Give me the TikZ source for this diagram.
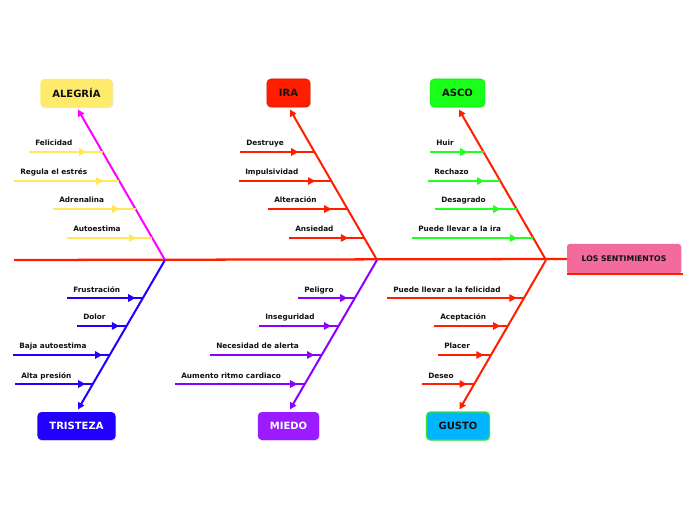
\documentclass[tikz,border=0pt]{standalone}
\usepackage{fontspec}
\setmainfont{DejaVu Sans}
\usetikzlibrary{arrows.meta,positioning,decorations.markings,shadows}

\definecolor{alegriaFill}{HTML}{FFEB6B}
\definecolor{alegriaLine}{HTML}{FFE95A}
\definecolor{boneMag}{HTML}{FF00FF}
\definecolor{iraRed}{HTML}{FF1E00}
\definecolor{ascoFill}{HTML}{1AFF1A}
\definecolor{ascoLine}{HTML}{22FF22}
\definecolor{tristeBlue}{HTML}{2200FF}
\definecolor{miedoFill}{HTML}{9B1AFF}
\definecolor{miedoLine}{HTML}{8A00FF}
\definecolor{gustoFill}{HTML}{00B4FF}
\definecolor{gustoEdge}{HTML}{33E633}
\definecolor{sentPink}{HTML}{F26B9C}
\definecolor{textDark}{HTML}{111111}

\begin{document}
\begin{tikzpicture}[
 x=0.75pt,y=-0.75pt,
 emo/.style={rounded corners=3pt,minimum height=21pt,inner xsep=9pt,outer sep=0pt,text=textDark,
   font=\fontsize{7.5}{9}\selectfont\bfseries,
   drop shadow={opacity=0.18,shadow xshift=0.6pt,shadow yshift=-0.9pt}},
 bone/.style={color=#1,line width=1.5pt,shorten >=2.2pt,-{Triangle[length=5pt,width=5pt]}},
 cause/.style={anchor=base west,inner sep=0pt,text=textDark,font=\fontsize{5.5}{6}\selectfont\bfseries},
 upsub/.style={color=#1,line width=1.4pt,postaction={decorate},
   decoration={markings,mark=at position -12pt with {\arrow{Triangle[length=5.5pt,width=5.5pt]}}}},
 lowsub/.style={color=#1,line width=1.4pt,postaction={decorate},
   decoration={markings,mark=at position -5.5pt with {\arrow{Triangle[length=5.5pt,width=5.5pt]}}}}
]
\fill[white] (0,0) rectangle (696,520);
\useasboundingbox (0,0) rectangle (696,520);

% heads and the emotion boxes
\node[emo,fill=sentPink,minimum width=85.5pt,minimum height=22.5pt,rounded corners=2pt,
  font=\fontsize{5.8}{7}\selectfont\bfseries] (sent) at (624,259) {LOS SENTIMIENTOS};
\node[emo,fill=alegriaFill] (alegria) at (76.5,93) {ALEGRÍA};
\node[emo,fill=iraRed,draw=iraRed!85!black] (ira) at (288.5,93) {IRA};
\node[emo,fill=ascoFill,draw=ascoFill!90!black] (asco) at (457.5,93) {ASCO};
\node[emo,fill=tristeBlue,text=white] (tristeza) at (76.5,426) {TRISTEZA};
\node[emo,fill=miedoFill,text=white] (miedo) at (288.5,426) {MIEDO};
\node[emo,fill=gustoFill,draw=gustoEdge,line width=1pt] (gusto) at (458,426) {GUSTO};

% spine
\coordinate (tail) at (14,260);
\coordinate (jA) at (165,260);
\coordinate (jI) at (377,260);
\coordinate (jS) at (546,260);
\draw[iraRed,line width=1.7pt] (tail) -- (sent.west);
\draw[iraRed,line width=1.2pt] (sent.south west) -- ([xshift=1.5pt]sent.south east);

% bones
\draw[bone=boneMag] (jA) -- (alegria.south);
\draw[bone=iraRed] (jI) -- (ira.south);
\draw[bone=iraRed] (jS) -- (asco.south);
\draw[bone=tristeBlue] (jA) -- (tristeza.north);
\draw[bone=miedoLine] (jI) -- (miedo.north);
\draw[bone=iraRed] (jS) -- (gusto.north);

% points on the bones
\path (jA) -- (alegria.south) coordinate[pos=0.706] (a1) coordinate[pos=0.516] (a2) coordinate[pos=0.333] (a3) coordinate[pos=0.144] (a4);
\path (jI) -- (ira.south) coordinate[pos=0.706] (i1) coordinate[pos=0.516] (i2) coordinate[pos=0.333] (i3) coordinate[pos=0.144] (i4);
\path (jS) -- (asco.south) coordinate[pos=0.706] (s1) coordinate[pos=0.516] (s2) coordinate[pos=0.333] (s3) coordinate[pos=0.144] (s4);
\path (jA) -- (tristeza.north) coordinate[pos=0.25] (t1) coordinate[pos=0.434] (t2) coordinate[pos=0.625] (t3) coordinate[pos=0.816] (t4);
\path (jI) -- (miedo.north) coordinate[pos=0.25] (m1) coordinate[pos=0.434] (m2) coordinate[pos=0.625] (m3) coordinate[pos=0.816] (m4);
\path (jS) -- (gusto.north) coordinate[pos=0.25] (g1) coordinate[pos=0.434] (g2) coordinate[pos=0.625] (g3) coordinate[pos=0.816] (g4);

% ALEGRIA
\node[cause] (felicidad) at (35,146) {Felicidad};
\node[cause] (regula) at (20,175) {Regula el estrés};
\node[cause] (adrenalina) at (59,203) {Adrenalina};
\node[cause] (autoestima) at (73,232) {Autoestima};
\draw[upsub=alegriaLine] ([xshift=-4.5pt]felicidad.west |- a1) -- (a1);
\draw[upsub=alegriaLine] ([xshift=-4.5pt]regula.west |- a2) -- (a2);
\draw[upsub=alegriaLine] ([xshift=-4.5pt]adrenalina.west |- a3) -- (a3);
\draw[upsub=alegriaLine] ([xshift=-4.5pt]autoestima.west |- a4) -- (a4);

% IRA
\node[cause] (destruye) at (246,146) {Destruye};
\node[cause] (impulsividad) at (245,175) {Impulsividad};
\node[cause] (alteracion) at (274,203) {Alteración};
\node[cause] (ansiedad) at (295,232) {Ansiedad};
\draw[upsub=iraRed] ([xshift=-4.5pt]destruye.west |- i1) -- (i1);
\draw[upsub=iraRed] ([xshift=-4.5pt]impulsividad.west |- i2) -- (i2);
\draw[upsub=iraRed] ([xshift=-4.5pt]alteracion.west |- i3) -- (i3);
\draw[upsub=iraRed] ([xshift=-4.5pt]ansiedad.west |- i4) -- (i4);

% ASCO
\node[cause] (huir) at (436,146) {Huir};
\node[cause] (rechazo) at (434,175) {Rechazo};
\node[cause] (desagrado) at (441,203) {Desagrado};
\node[cause] (llevaira) at (418,232) {Puede llevar a la ira};
\draw[upsub=ascoLine] ([xshift=-4.5pt]huir.west |- s1) -- (s1);
\draw[upsub=ascoLine] ([xshift=-4.5pt]rechazo.west |- s2) -- (s2);
\draw[upsub=ascoLine] ([xshift=-4.5pt]desagrado.west |- s3) -- (s3);
\draw[upsub=ascoLine] ([xshift=-4.5pt]llevaira.west |- s4) -- (s4);

% TRISTEZA
\node[cause] (frustracion) at (73,292) {Frustración};
\node[cause] (dolor) at (83,320) {Dolor};
\node[cause] (baja) at (19,349) {Baja autoestima};
\node[cause] (presion) at (21,378) {Alta presión};
\draw[lowsub=tristeBlue] ([xshift=-4.5pt]frustracion.west |- t1) -- (t1);
\draw[lowsub=tristeBlue] ([xshift=-4.5pt]dolor.west |- t2) -- (t2);
\draw[lowsub=tristeBlue] ([xshift=-4.5pt]baja.west |- t3) -- (t3);
\draw[lowsub=tristeBlue] ([xshift=-4.5pt]presion.west |- t4) -- (t4);

% MIEDO
\node[cause] (peligro) at (304,292) {Peligro};
\node[cause] (inseguridad) at (265,320) {Inseguridad};
\node[cause] (alerta) at (216,349) {Necesidad de alerta};
\node[cause] (ritmo) at (181,378) {Aumento ritmo cardiaco};
\draw[lowsub=miedoLine] ([xshift=-4.5pt]peligro.west |- m1) -- (m1);
\draw[lowsub=miedoLine] ([xshift=-4.5pt]inseguridad.west |- m2) -- (m2);
\draw[lowsub=miedoLine] ([xshift=-4.5pt]alerta.west |- m3) -- (m3);
\draw[lowsub=miedoLine] ([xshift=-4.5pt]ritmo.west |- m4) -- (m4);

% GUSTO
\node[cause] (llevafel) at (393,292) {Puede llevar a la felicidad};
\node[cause] (aceptacion) at (440,320) {Aceptación};
\node[cause] (placer) at (444,349) {Placer};
\node[cause] (deseo) at (428,378) {Deseo};
\draw[lowsub=iraRed] ([xshift=-4.5pt]llevafel.west |- g1) -- (g1);
\draw[lowsub=iraRed] ([xshift=-4.5pt]aceptacion.west |- g2) -- (g2);
\draw[lowsub=iraRed] ([xshift=-4.5pt]placer.west |- g3) -- (g3);
\draw[lowsub=iraRed] ([xshift=-4.5pt]deseo.west |- g4) -- (g4);
\end{tikzpicture}
\end{document}
